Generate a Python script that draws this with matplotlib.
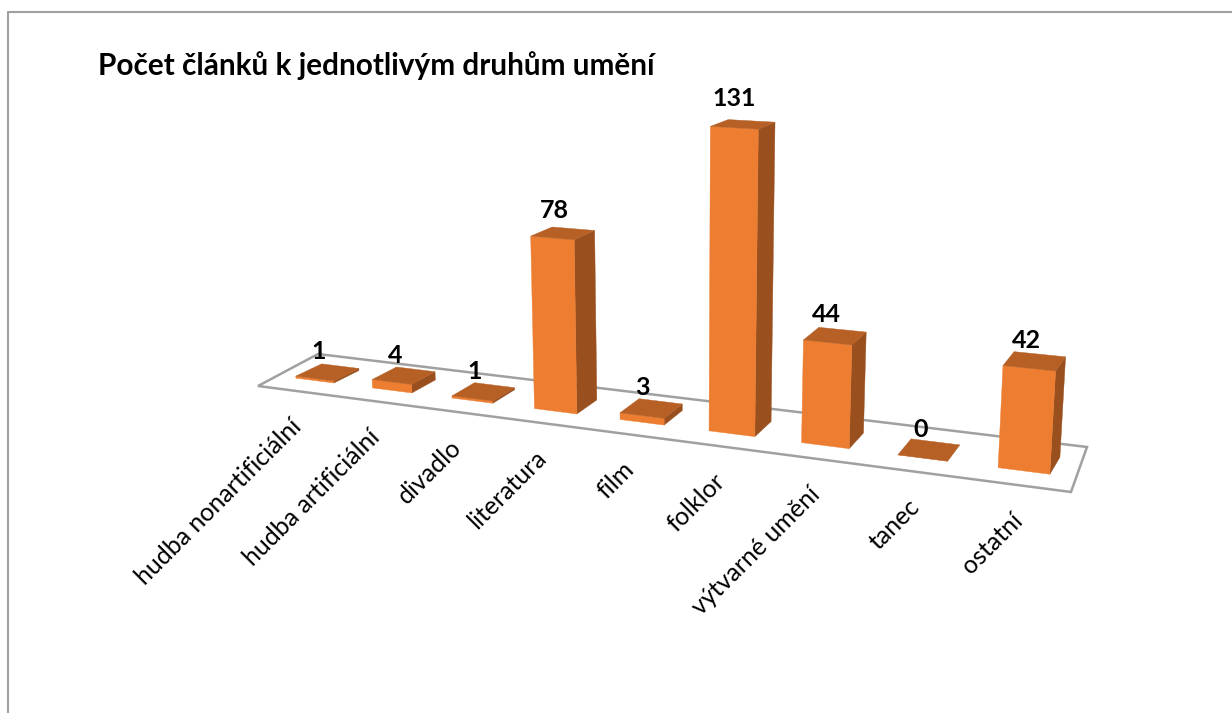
# 3D looking column chart, drawn on a plain pixel sized axes

import matplotlib.pyplot as plt
from matplotlib.patches import Polygon

categories = ['hudba nonartificiální', 'hudba artificiální', 'divadlo', 'literatura',
              'film', 'folklor', 'výtvarné umění', 'tanec', 'ostatní']
values = [1, 4, 1, 78, 3, 131, 44, 0, 42]
title = 'Počet článků k jednotlivým druhům umění'

FRONT = '#ED7D31'
TOP = '#B66026'
SIDE = '#9A4F1E'
GREY = '#A0A0A0'

# floor corners in pixels
FL = (258, 386)
FR = (1071, 492)
BL = (318, 354)
BR = (1087, 447)
K = 1.19  # perspective along the category axis
V0, V1 = 0.32, 0.70  # bar depth on the floor


def project(u, v, z=0):
    # u = position in categories, v = depth on floor 0..1, z = chart value
    a = u / len(categories)
    t = a / (a + K * (1 - a))
    fx, fy = FL[0] + (FR[0] - FL[0]) * t, FL[1] + (FR[1] - FL[1]) * t
    bx, by = BL[0] + (BR[0] - BL[0]) * t, BL[1] + (BR[1] - BL[1]) * t
    x = fx + (bx - fx) * v
    y = fy + (by - fy) * v
    scale = 2.175 + (x - 533) * 0.00051 + 0.00045 * z - 0.18 * (v - V0)
    h = z * scale
    return x + 9 * (v - V0) + h * (x - 680) * 0.00015, y - h


def face(ax, points, color, order):
    ax.add_patch(Polygon(points, closed=True, facecolor=color, edgecolor=color,
                         linewidth=0.3, zorder=order))


def plot_chart():
    fig = plt.figure(figsize=(12.32, 7.13), dpi=100)
    ax = fig.add_axes([0, 0, 1, 1])
    ax.set_xlim(0, 1232)
    ax.set_ylim(713, 0)
    ax.axis('off')

    # outer chart frame, right and bottom side are cut off in the picture
    ax.plot([8, 8, 1232], [713, 12, 12], color=GREY, linewidth=1.5, zorder=1)

    ax.add_patch(Polygon([FL, FR, BR, BL], closed=True, facecolor='white',
                         edgecolor=GREY, linewidth=1.8, zorder=2))

    for i, val in enumerate(values):
        u0, u1 = i + 0.25, i + 0.75
        order = 3 + i
        face(ax, [project(u1, V0), project(u1, V1), project(u1, V1, val), project(u1, V0, val)], SIDE, order)
        face(ax, [project(u0, V0), project(u1, V0), project(u1, V0, val), project(u0, V0, val)], FRONT, order)
        face(ax, [project(u0, V0, val), project(u1, V0, val), project(u1, V1, val), project(u0, V1, val)], TOP, order)

        lx, ly = project(i + 0.5, 0.5, val)
        ax.text(lx - 8, ly - 21 - 0.0003 * val ** 2, str(val), ha='center', va='center', fontsize=18,
                fontweight='bold', family='Lato', color='black', zorder=20)

        ex, ey = project(i + 0.5, 0)
        ax.text(ex + 9, ey + 37, categories[i], ha='right', va='baseline', rotation=45,
                rotation_mode='anchor', fontsize=18, family='Lato', color='black', zorder=20)

    ax.text(98, 66, title, ha='left', va='center', fontsize=21.4, fontweight='bold',
            family='Lato', color='black', zorder=20)

    fig.savefig('out.png', dpi=100)


plot_chart()
